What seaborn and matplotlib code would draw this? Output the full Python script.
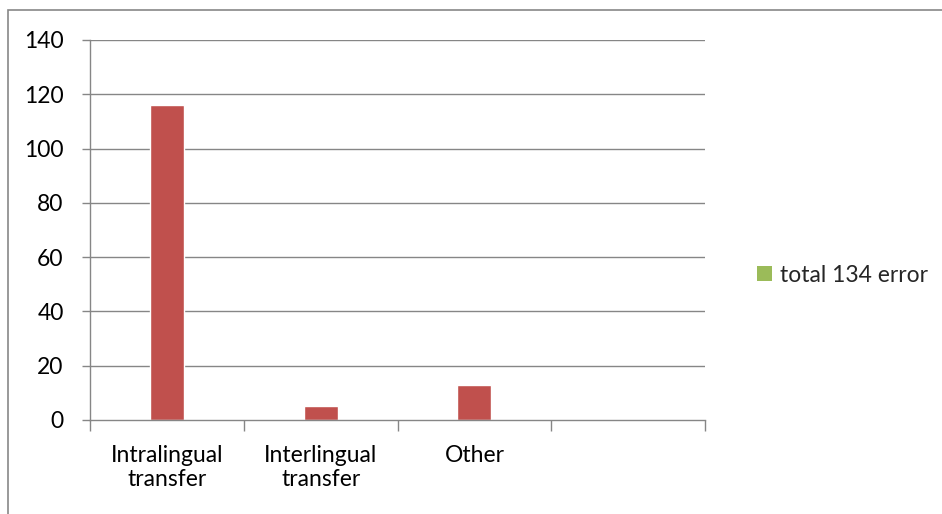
import numpy as np
import pandas as pd
import matplotlib
matplotlib.use("Agg")
import matplotlib.pyplot as plt
import seaborn as sns
from matplotlib.patches import Patch, Rectangle

categories = ["Intralingual\ntransfer", "Interlingual\ntransfer", "Other", ""]
values = [116, 5, 13, np.nan]
series_name = "total 134 error"
y_ticks = [0, 20, 40, 60, 80, 100, 120, 140]

sns.set_theme(style="white")
plt.rcParams["font.family"] = ["Lato", "DejaVu Sans"]

fig = plt.figure(figsize=(9.42, 5.14), dpi=100)
ax = fig.add_axes([90 / 942, 1 - 420 / 514, 615 / 942, 380 / 514])

df = pd.DataFrame({"category": categories, "value": values})
sns.barplot(data=df, x="category", y="value", order=categories, color="#C0504D",
            saturation=1, width=0.22, ax=ax, errorbar=None)

grid_c = "#868686"
fs = 16.5
ax.set_ylim(0, 140)
ax.set_xlim(-0.5, len(categories) - 0.5)
ax.set_yticks(y_ticks)
for t in y_ticks[1:]:
    ax.axhline(t, color=grid_c, lw=1, zorder=0)
ax.set_xticks(range(len(categories)))
ax.set_xticklabels(categories, fontsize=fs, color="black", linespacing=1.15)
ax.set_xticks(np.arange(-0.5, len(categories)), minor=True)
ax.tick_params(axis="x", which="major", length=0, pad=18)
ax.tick_params(axis="x", which="minor", length=8, width=1, color=grid_c, bottom=True)
ax.tick_params(axis="y", length=6, width=1, color=grid_c, left=True, labelsize=fs, labelcolor="black", pad=13)
ax.set_xlabel("")
ax.set_ylabel("")
for s in ["top", "right"]:
    ax.spines[s].set_visible(False)
for s in ["left", "bottom"]:
    ax.spines[s].set_color(grid_c)
    ax.spines[s].set_linewidth(1)

handle = Patch(facecolor="#9BBB59", edgecolor="none")
fig.legend([handle], [series_name], loc="center left", bbox_to_anchor=(757 / 942, 1 - 275 / 514),
           frameon=False, fontsize=fs, handlelength=0.65, handleheight=0.65, handletextpad=0.35,
           borderaxespad=0, borderpad=0)

border = Rectangle((8 / 942, -0.1), 2, 1 - 10 / 514 + 0.1, transform=fig.transFigure,
                   fill=False, edgecolor="#878787", lw=1.2)
fig.patches.append(border)

fig.savefig("out.png", dpi=100)
